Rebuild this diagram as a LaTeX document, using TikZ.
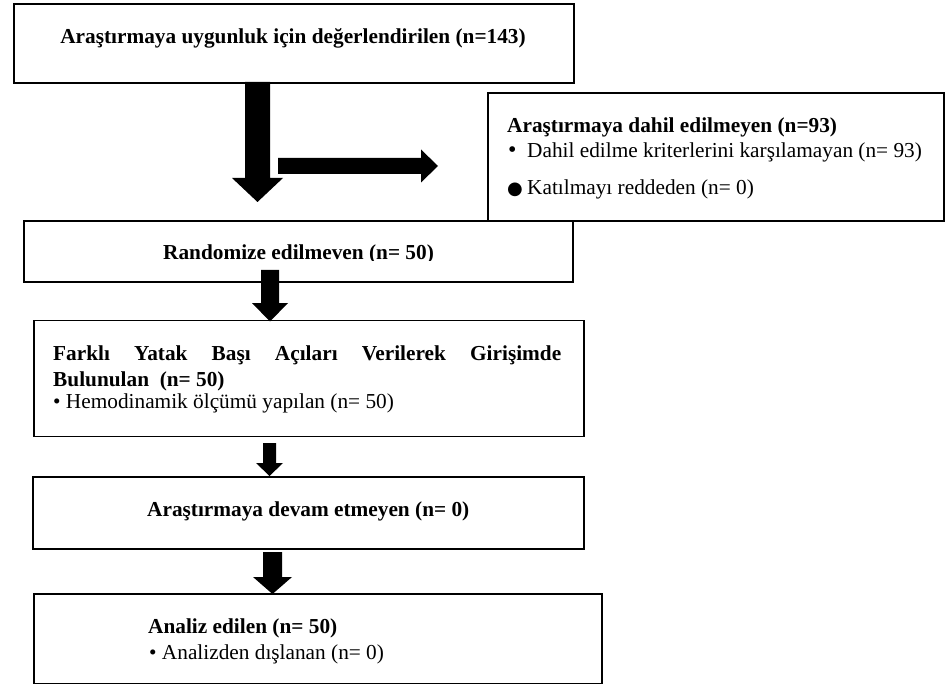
\documentclass[tikz,border=0pt]{standalone}
\usepackage{fontspec}
\setmainfont{Liberation Serif}
\newfontfamily\dvsans{DejaVu Sans}
\begin{document}
\begin{tikzpicture}[x=1pt,y=-1pt,
  box/.style={draw=black,line width=1.6pt,fill=none,inner sep=0pt,anchor=north west},
  txt/.style={inner sep=0pt,anchor=base west,font=\fontsize{21.3}{25}\selectfont},
  pics/downblk/.style n args={4}{code={%
    \fill[black] (-#1,0) -- (#1,0) -- (#1,#2) -- (#3,#2) -- (0,{#2+#4}) -- (-#3,#2) -- (-#1,#2) -- cycle;}},
  pics/rightblk/.style n args={4}{code={%
    \fill[black] (0,-#1) -- (#2,-#1) -- (#2,-#3) -- ({#2+#4},0) -- (#2,#3) -- (#2,#1) -- (0,#1) -- cycle;}}
]
\useasboundingbox (0,0) rectangle (949,684);

% boxes
\node[box,minimum width=560pt,minimum height=79pt] (b1) at (13,3) {};
\node[box,minimum width=456pt,minimum height=128pt] (bx) at (487,92) {};
\node[box,minimum width=549pt,minimum height=61pt] (b2) at (23,220) {};
\node[box,minimum width=550pt,minimum height=116pt] (b3) at (33,319.5) {};
\node[box,minimum width=551pt,minimum height=72pt] (b4) at (32,476) {};
\node[box,minimum width=568pt,minimum height=89.5pt] (b5) at (33,593) {};

% texts
\node[txt,anchor=base] (t1) at (293,44) {\textbf{Araştırmaya uygunluk için değerlendirilen (n=143)}};

\node[txt] (tx1) at (507,133) {\textbf{Araştırmaya dahil edilmeyen (n=93)}};
\node[txt] (tx2) at (508,158) {\makebox[19pt][l]{\fontsize{24}{25}\selectfont •}Dahil edilme kriterlerini karşılamayan (n= 93)};
\node[txt] (tx3) at (507,195) {\makebox[20pt][l]{\dvsans\fontsize{18}{20}\selectfont ●}Katılmayı reddeden (n= 0)};

\begin{scope}
  \clip (23,220) rectangle (572,261);
  \node[txt] (t2) at (163,260) {\textbf{Randomize edilmeven (n= 50)}};
\end{scope}

\node[txt] (t3a) at (53,360) {\makebox[508pt][s]{\textbf{Farklı Yatak Başı Açıları Verilerek Girişimde}}};
\node[txt] (t3b) at (53,386) {\textbf{Bulunulan\ \ (n= 50)}};
\node[txt] (t3c) at (53,408) {• Hemodinamik ölçümü yapılan (n= 50)};

\node[txt] (t4) at (147,516) {\textbf{Araştırmaya devam etmeyen (n= 0)}};

\node[txt] (t5a) at (148,633) {\textbf{Analiz edilen (n= 50)}};
\node[txt] (t5b) at (149,659) {• Analizden dışlanan (n= 0)};

% block arrows
\coordinate (a1) at (257.5,82);
\coordinate (ah) at (278,166);
\coordinate (a2) at (270,270);
\coordinate (a3) at (269.5,443);
\coordinate (a4) at (272.5,552);
\pic at (a1) {downblk={12.5}{96}{25.5}{24}};
\pic at (ah) {rightblk={8}{143}{16.5}{17}};
\pic at (a2) {downblk={9}{33}{18}{18.5}};
\pic at (a3) {downblk={6.5}{20}{13.5}{13}};
\pic at (a4) {downblk={9.5}{25}{19.5}{17}};
\end{tikzpicture}
\end{document}
